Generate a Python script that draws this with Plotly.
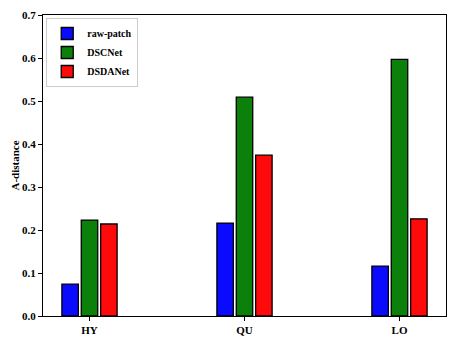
import plotly.graph_objects as go

# Data
categories = ["HY", "QU", "LO"]
raw_patch = [0.074, 0.216, 0.116]
dscnet = [0.223, 0.509, 0.597]
dsdanet = [0.214, 0.374, 0.226]
y_ticks = [0.0, 0.1, 0.2, 0.3, 0.4, 0.5, 0.6, 0.7]

bold = dict(family="Liberation Serif", size=11, color="black", weight="bold")

fig = go.Figure()
for name, vals, col in [("raw-patch", raw_patch, "#0a0aff"),
                        ("DSCNet", dscnet, "#0b800b"),
                        ("DSDANet", dsdanet, "#ff0a0a")]:
    fig.add_trace(go.Bar(
        x=categories, y=vals, name=name,
        marker=dict(color=col, line=dict(color="black", width=1.3)),
    ))

fig.update_layout(
    width=457, height=343,
    margin=dict(l=43, r=11, t=15, b=27, autoexpand=False),
    barmode="group", bargap=0.625, bargroupgap=0.15,
    plot_bgcolor="white", paper_bgcolor="white",
    font=bold,
    showlegend=True,
    legend=dict(x=0.008, y=0.99, xanchor="left", yanchor="top",
                bgcolor="white", bordercolor="#cccccc", borderwidth=1,
                font=dict(family="Liberation Serif", size=10, color="black",
                          weight="bold"),
                tracegroupgap=0, itemwidth=30),
    xaxis=dict(range=[-0.3, 2.3], showline=True, linecolor="black", linewidth=1,
               mirror=True, ticks="outside", ticklen=4, tickcolor="black",
               automargin=False, tickfont=bold),
    yaxis=dict(range=[0, 0.7], tickvals=y_ticks,
               ticktext=[f"{v:.1f}" for v in y_ticks],
               showline=True, linecolor="black", linewidth=1, mirror=True,
               showgrid=False, zeroline=False, automargin=False,
               ticks="outside", ticklen=4, tickcolor="black",
               tickfont=bold,
               title=dict(text="A-distance", standoff=0, font=bold)),
)

# drop the browser's default page margin so the figure sits at the corner
fig.write_html("out.html", config={"displayModeBar": False},
               post_script="document.body.style.margin='0';")
